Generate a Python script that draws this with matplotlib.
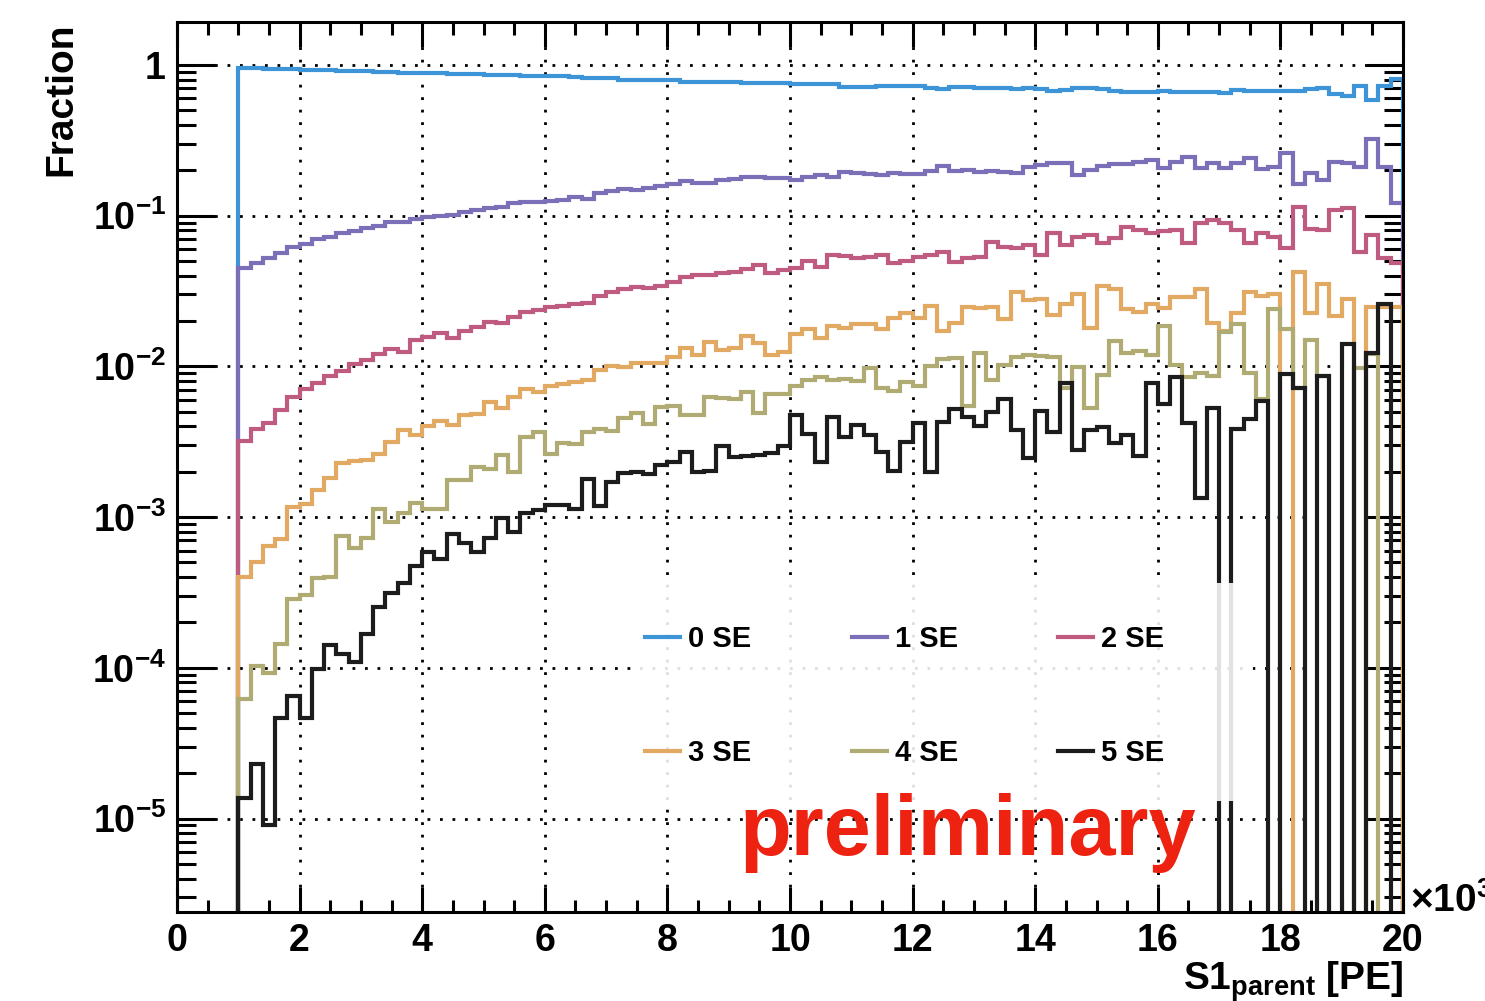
import numpy as np
import matplotlib as mpl
mpl.use("Agg")
import matplotlib.pyplot as plt
from matplotlib.patches import Rectangle
from matplotlib.ticker import FixedLocator, MultipleLocator, LogLocator, NullFormatter

mpl.rcParams.update({
    "font.family": ["Liberation Sans", "DejaVu Sans"],
    "font.weight": "bold",
    "mathtext.fontset": "custom",
    "mathtext.rm": "Liberation Sans:bold",
    "mathtext.it": "Liberation Sans:bold",
    "mathtext.bf": "Liberation Sans:bold",
    "mathtext.default": "rm",
    "axes.linewidth": 2.2,
})

# ---- data: fraction per S1 bin (200 PE bins from 1000 to 20000 PE) ----
bin_lo, bin_hi, bin_w = 1000, 20000, 200

se0 = [0.95, 0.95, 0.945, 0.94, 0.935, 0.93, 0.925, 0.92, 0.915, 0.91,
       0.905, 0.90, 0.895, 0.89, 0.89, 0.885, 0.88, 0.875, 0.87, 0.865,
       0.86, 0.86, 0.855, 0.85, 0.85, 0.845, 0.84, 0.835, 0.825, 0.82,
       0.815, 0.80, 0.80, 0.80, 0.795, 0.79, 0.775, 0.775, 0.77, 0.765,
       0.765, 0.756, 0.756, 0.756, 0.756, 0.744, 0.744, 0.744, 0.744, 0.718,
       0.718, 0.718, 0.73, 0.73, 0.73, 0.73, 0.707, 0.69, 0.718, 0.71,
       0.70, 0.70, 0.70, 0.69, 0.70, 0.69, 0.675, 0.685, 0.705, 0.705,
       0.69, 0.675, 0.665, 0.665, 0.665, 0.67, 0.66, 0.66, 0.66, 0.66,
       0.655, 0.68, 0.67, 0.67, 0.67, 0.67, 0.675, 0.69, 0.70, 0.645,
       0.625, 0.72, 0.585, 0.72, 0.81]

se1 = [0.0448, 0.0488, 0.0521, 0.0568, 0.0623, 0.0649, 0.070, 0.0719, 0.077, 0.0794,
       0.0828, 0.0859, 0.0912, 0.0912, 0.095, 0.0986, 0.100, 0.101, 0.106, 0.109,
       0.112, 0.115, 0.122, 0.124, 0.124, 0.125, 0.128, 0.134, 0.130, 0.141,
       0.146, 0.150, 0.147, 0.152, 0.158, 0.162, 0.170, 0.166, 0.164, 0.173,
       0.176, 0.181, 0.180, 0.179, 0.179, 0.173, 0.181, 0.186, 0.181, 0.196,
       0.193, 0.189, 0.186, 0.193, 0.188, 0.190, 0.199, 0.214, 0.199, 0.200,
       0.196, 0.198, 0.196, 0.193, 0.211, 0.217, 0.223, 0.225, 0.186, 0.201,
       0.214, 0.219, 0.219, 0.228, 0.234, 0.206, 0.228, 0.244, 0.206, 0.225,
       0.206, 0.225, 0.240, 0.204, 0.211, 0.260, 0.162, 0.191, 0.173, 0.228,
       0.223, 0.211, 0.321, 0.210, 0.122]

se2 = [0.0032, 0.00384, 0.00423, 0.00514, 0.0063, 0.00705, 0.0078, 0.00863, 0.00937, 0.0103,
       0.0111, 0.012, 0.013, 0.0124, 0.015, 0.0157, 0.0166, 0.0155, 0.0173, 0.0183,
       0.0196, 0.0193, 0.0214, 0.0231, 0.0235, 0.0249, 0.0251, 0.026, 0.0262, 0.0294,
       0.0313, 0.0325, 0.0338, 0.0333, 0.034, 0.0365, 0.0394, 0.0402, 0.0405, 0.0415,
       0.042, 0.044, 0.0471, 0.0415, 0.0435, 0.0448, 0.0503, 0.0455, 0.0548, 0.054,
       0.0521, 0.053, 0.0548, 0.0488, 0.0503, 0.053, 0.0548, 0.0577, 0.049, 0.0521,
       0.053, 0.067, 0.0623, 0.0607, 0.064, 0.0548, 0.0764, 0.064, 0.0726, 0.074,
       0.0655, 0.0708, 0.0845, 0.080, 0.0764, 0.079, 0.080, 0.066, 0.090, 0.0936,
       0.089, 0.080, 0.066, 0.0764, 0.0726, 0.0607, 0.1147, 0.082, 0.080, 0.109,
       0.112, 0.0577, 0.074, 0.0521, 0.0488]

se3 = [0.000402, 0.000501, 0.000643, 0.000716, 0.00116, 0.00123, 0.00151, 0.00181, 0.00227, 0.00236,
       0.0024, 0.00262, 0.00316, 0.00379, 0.0035, 0.00402, 0.00436, 0.0041, 0.00476, 0.0048,
       0.00583, 0.00527, 0.0063, 0.00705, 0.0068, 0.0074, 0.0076, 0.00792, 0.00813, 0.00946,
       0.0101, 0.0099, 0.0106, 0.0105, 0.0106, 0.0115, 0.0132, 0.0119, 0.0146, 0.0128,
       0.0132, 0.0159, 0.0144, 0.0119, 0.0124, 0.0163, 0.0176, 0.0155, 0.0185, 0.018,
       0.0191, 0.019, 0.0177, 0.0208, 0.0225, 0.021, 0.0253, 0.0172, 0.0195, 0.0247,
       0.0243, 0.0247, 0.0205, 0.0313, 0.0276, 0.028, 0.0219, 0.0258, 0.030, 0.0181,
       0.0341, 0.0326, 0.024, 0.0231, 0.026, 0.0245, 0.029, 0.029, 0.0325, 0.0193,
       0.0172, 0.0227, 0.031, 0.0295, 0.030, 0.0, 0.0425, 0.0225, 0.035, 0.0217,
       0.0279, 0.0, 0.0247, 0.0247, 0.0247]

se4 = [6.2e-5, 1.03e-4, 9.2e-5, 1.43e-4, 2.86e-4, 3.04e-4, 3.92e-4, 4.0e-4, 7.53e-4, 6.2e-4,
       7.3e-4, 1.14e-3, 9.3e-4, 1.06e-3, 1.25e-3, 1.13e-3, 1.14e-3, 1.76e-3, 1.76e-3, 2.16e-3,
       2.08e-3, 2.58e-3, 2.0e-3, 3.42e-3, 3.69e-3, 2.62e-3, 3.09e-3, 3.07e-3, 3.69e-3, 3.82e-3,
       3.74e-3, 4.57e-3, 4.89e-3, 4.15e-3, 5.4e-3, 5.5e-3, 4.76e-3, 4.76e-3, 6.3e-3, 6.2e-3,
       6.1e-3, 6.73e-3, 4.93e-3, 6.53e-3, 6.6e-3, 7.4e-3, 8.13e-3, 8.55e-3, 8.1e-3, 8.2e-3,
       8.0e-3, 9.7e-3, 7.15e-3, 6.9e-3, 7.84e-3, 7.4e-3, 0.0101, 0.0112, 0.0113, 0.0055,
       0.0122, 0.0081, 0.0102, 0.0115, 0.0119, 0.0118, 0.0116, 0.00715, 0.00996, 0.00527,
       0.00877, 0.0148, 0.0122, 0.0127, 0.0119, 0.0185, 0.0102, 0.0085, 0.0091, 0.0087,
       0.017, 0.0191, 0.009, 0.0061, 0.0239, 0.0177, 0.0072, 0.015, 0.0087, 0.0,
       0.0, 0.0097, 0.0121, 0.0, 0.0]

se5 = [1.36e-5, 2.3e-5, 9.1e-6, 4.62e-5, 6.5e-5, 4.62e-5, 9.77e-5, 1.42e-4, 1.24e-4, 1.1e-4,
       1.67e-4, 2.52e-4, 3.12e-4, 3.67e-4, 4.73e-4, 5.83e-4, 5.25e-4, 7.69e-4, 6.7e-4, 5.83e-4,
       7.23e-4, 9.8e-4, 8.0e-4, 1.06e-3, 1.11e-3, 1.2e-3, 1.21e-3, 1.13e-3, 1.79e-3, 1.19e-3,
       1.72e-3, 1.95e-3, 2.0e-3, 1.93e-3, 2.22e-3, 2.31e-3, 2.72e-3, 2.0e-3, 2.02e-3, 2.98e-3,
       2.52e-3, 2.55e-3, 2.57e-3, 2.65e-3, 2.98e-3, 4.76e-3, 3.54e-3, 2.33e-3, 4.59e-3, 3.42e-3,
       4.08e-3, 3.5e-3, 2.72e-3, 2.03e-3, 3.16e-3, 4.19e-3, 2.0e-3, 4.3e-3, 5.19e-3, 4.64e-3,
       4.04e-3, 5.01e-3, 6.05e-3, 3.79e-3, 2.46e-3, 5.08e-3, 3.69e-3, 7.8e-3, 2.79e-3, 3.79e-3,
       3.98e-3, 3.12e-3, 3.5e-3, 2.55e-3, 7.72e-3, 5.63e-3, 8.47e-3, 4.23e-3, 1.33e-3, 5.27e-3,
       0.0, 3.82e-3, 4.45e-3, 5.92e-3, 0.0, 8.9e-3, 7.15e-3, 0.0, 8.67e-3, 0.0,
       0.014, 0.0, 0.0123, 0.0259, 0.0]

labels = ["0 SE", "1 SE", "2 SE", "3 SE", "4 SE", "5 SE"]
colors = ["#3d95d8", "#7b6fb8", "#bf5a80", "#e2a962", "#b0ab73", "#1c1c1c"]

y_ticks = [1e-5, 1e-4, 1e-3, 1e-2, 1e-1, 1]
y_ticklabels = ["$10^{-5}$", "$10^{-4}$", "$10^{-3}$", "$10^{-2}$", "$10^{-1}$", "1"]
x_ticks = list(range(0, 20001, 2000))
x_ticklabels = [str(v // 1000) for v in x_ticks]

# ---- figure ----
W, H = 1485, 1001
fig = plt.figure(figsize=(W / 100, H / 100), dpi=100)
ax = fig.add_axes([177 / W, 1 - 912 / H, (1403 - 177) / W, (912 - 22) / H])

edges = np.arange(bin_lo, bin_hi + 1, bin_w)
floor = 1e-9  # empty bins drop below the frame, as in ROOT
handles = []
for vals, col, lab in zip([se0, se1, se2, se3, se4, se5], colors, labels):
    v = np.asarray(vals, dtype=float)
    v = np.where(v > 0, v, floor)
    h = ax.stairs(v, edges, baseline=floor, color=col, lw=3.0, label=lab, zorder=2)
    handles.append(h)

ax.set_yscale("log")
ax.set_xlim(0, 20000)
ax.set_ylim(10 ** -5.62, 10 ** 0.285)

ax.yaxis.set_major_locator(FixedLocator(y_ticks))
ax.set_yticklabels(y_ticklabels)
ax.yaxis.set_minor_locator(LogLocator(base=10, subs=np.arange(2, 10)))
ax.yaxis.set_minor_formatter(NullFormatter())
ax.xaxis.set_major_locator(FixedLocator(x_ticks))
ax.set_xticklabels(x_ticklabels)
ax.xaxis.set_minor_locator(MultipleLocator(500))

ax.tick_params(which="both", direction="in", top=True, right=True, width=2.2, labelsize=27)
ax.tick_params(axis="x", which="major", length=18, pad=8)
ax.tick_params(axis="x", which="minor", length=9)
ax.tick_params(axis="y", which="major", length=27, pad=8)
ax.tick_params(axis="y", which="minor", length=14)

ax.set_axisbelow(True)
ax.grid(True, which="major", color="black", linestyle=(0, (1, 3.5)), linewidth=2)

ax.set_xlabel("S1$_{\\rm parent}$ [PE]", fontsize=28, fontweight="bold")
ax.xaxis.set_label_coords(1.0, -(990 - 912) / 890)
ax.xaxis.label.set_ha("right")
ax.xaxis.label.set_va("baseline")
ax.set_ylabel("Fraction", fontsize=28, fontweight="bold")
ax.yaxis.set_label_coords((61 - 177) / 1226, 1.0)
ax.yaxis.label.set_ha("right")
ax.yaxis.label.set_va("center")

# legend with translucent white box, filled row by row
ax.add_patch(Rectangle((0.3777, 0.1247), 0.5, 0.245, transform=ax.transAxes,
                       facecolor="white", edgecolor="none", alpha=0.88, zorder=4))
order = [0, 3, 1, 4, 2, 5]
leg = ax.legend([handles[i] for i in order], [labels[i] for i in order],
                ncol=3, loc="upper left", bbox_to_anchor=(0.3817, 0.322), frameon=False,
                fontsize=21, borderpad=0, borderaxespad=0, handlelength=1.2,
                handletextpad=0.27, columnspacing=3.45, labelspacing=2.95)
leg.set_zorder(5)

ax.text(0.459, 0.064, "preliminary", transform=ax.transAxes, fontsize=61,
        fontweight="bold", color="#ee2211", va="baseline", ha="left", zorder=6)

fig.text(1410 / W, 1 - 912 / H, "\u00d710$^{3}$", fontsize=28, fontweight="bold",
         ha="left", va="baseline")

fig.savefig("out.png", dpi=100)
